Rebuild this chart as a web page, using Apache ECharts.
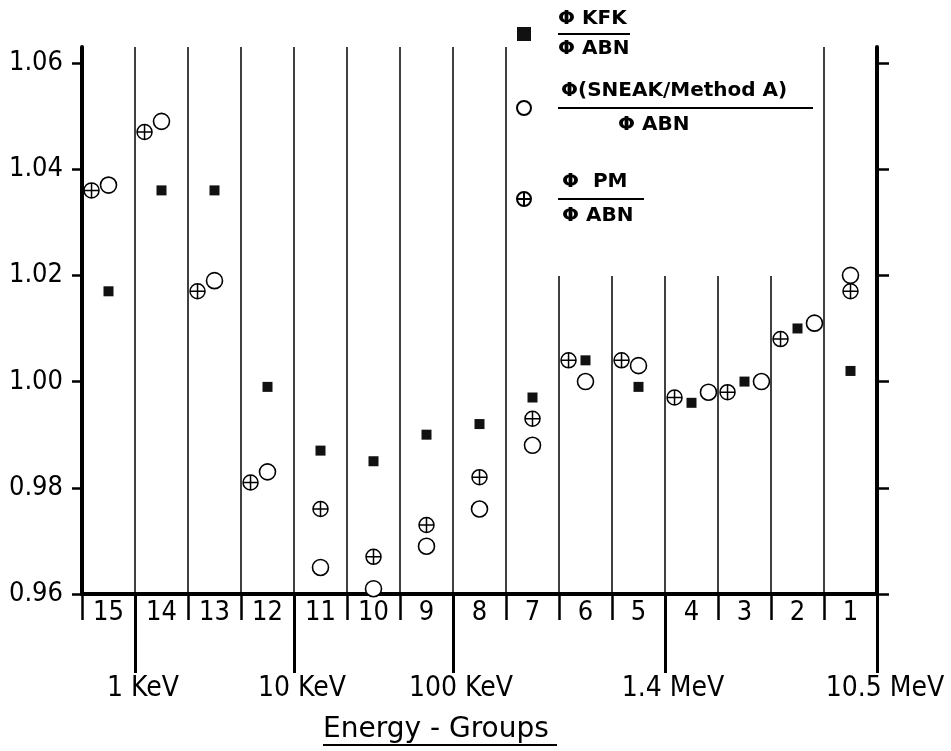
<!DOCTYPE html>
<html><head><meta charset="utf-8">
<script src="https://cdn.jsdelivr.net/npm/echarts@6/dist/echarts.min.js"></script>
<style>html,body{margin:0;padding:0;background:#fff}#c{width:951px;height:751px}</style>
</head><body><div id="c"></div>
<script>
// Energy groups, left to right
const groups = ['15','14','13','12','11','10','9','8','7','6','5','4','3','2','1'];
// Flux ratios (same order as groups)
const kfk   = [1.017, 1.036, 1.036, 0.999, 0.987, 0.985, 0.990, 0.992, 0.997, 1.004, 0.999, 0.996, 1.000, 1.010, 1.002];
const sneak = [1.037, 1.049, 1.019, 0.983, 0.965, 0.961, 0.969, 0.976, 0.988, 1.000, 1.003, 0.998, 1.000, 1.011, 1.020];
const pm    = [1.036, 1.047, 1.017, 0.981, 0.976, 0.967, 0.973, 0.982, 0.993, 1.004, 1.004, 0.997, 0.998, 1.008, 1.017];
// Y tick labels
const yTicks = [0.96, 0.98, 1.00, 1.02, 1.04, 1.06];
// Energy boundary marks (position = number of groups from the left edge) and labels
const energyBounds = [1, 4, 7, 11, 15];
const energyLabels = ['1 KeV', '10 KeV', '100 KeV', '1.4 MeV', '10.5 MeV'];
// Dodge slot of each marker inside its group (-1 left, 0 centre, +1 right)
const pmSlot    = [-1,-1,-1,-1, 0, 0, 0, 0, 0,-1,-1,-1,-1,-1, 0];
const sneakSlot = [ 0, 0, 0, 0, 0, 0, 0, 0, 0, 0, 0, 1, 1, 1, 0];
const kfkSlot   = [ 0, 0, 0, 0, 0, 0, 0, 0, 0, 0, 0, 0, 0, 0, 0];

const SLOT_W = 0.32;
function pts(vals, slots) {
  return vals.map((v, i) => [i + 0.5 + slots[i] * SLOT_W, v]);
}

const NAME_KFK = 'ΦKFK/ΦABN';
const NAME_SNEAK = 'Φ(SNEAK/Method A)/ΦABN';
const NAME_PM = 'ΦPM/ΦABN';
const legendText = {};
legendText[NAME_KFK] = '{n1|Φ KFK}\n{b1| }\n{d1|Φ ABN}';
legendText[NAME_SNEAK] = '{n2|Φ(SNEAK/Method A)}\n{b2| }\n{d2|Φ ABN}';
legendText[NAME_PM] = '{sp| }\n{n3|Φ  PM}\n{b3| }\n{d3|Φ ABN}\n{sp| }';

const COND = "'DejaVu Sans Condensed', 'DejaVu Sans'";
const LEG = {fontFamily: 'DejaVu Sans', fontWeight: 'bold', fontSize: 20, color: '#000'};
const PM_PATH = 'path://M10,0A10,10,0,1,1,-10,0A10,10,0,1,1,10,0ZM-10,0L10,0M0,-10L0,10';

const chart = echarts.init(document.getElementById('c'), null, {renderer: 'canvas'});
chart.setOption({
  backgroundColor: '#fff',
  animation: false,
  textStyle: {color: '#000'},
  grid: {left: 82, right: 74, top: 47, bottom: 157, containLabel: false},
  title: {
    text: '{t|Energy - Groups}\n{u| }',
    left: 323, top: 717, padding: 0,
    textStyle: {
      fontWeight: 'normal',
      rich: {
        t: {fontFamily: 'DejaVu Sans', fontWeight: 'normal', fontSize: 28, color: '#000', lineHeight: 26},
        u: {width: 234, height: 2, backgroundColor: '#000', lineHeight: 4}
      }
    }
  },
  legend: {
    orient: 'vertical', left: 510, top: 0,
    padding: [9, 6, 35, 6],
    itemWidth: 14, itemHeight: 14, itemGap: 22,
    backgroundColor: '#fff',
    selectedMode: false,
    data: [{name: NAME_KFK}, {name: NAME_SNEAK}, {name: NAME_PM}],
    formatter: n => legendText[n],
    textStyle: {
      padding: [0, 0, 0, 22],
      rich: {
        sp: {lineHeight: 12, fontSize: 10},
        n1: Object.assign({lineHeight: 24}, LEG),
        b1: {width: 72, height: 2, lineHeight: 6, backgroundColor: '#000'},
        d1: Object.assign({lineHeight: 24}, LEG),
        n2: Object.assign({lineHeight: 28, padding: [0, 0, 0, 3]}, LEG),
        b2: {width: 255, height: 2, lineHeight: 6, backgroundColor: '#000'},
        d2: Object.assign({lineHeight: 28, padding: [0, 0, 0, 60]}, LEG),
        n3: Object.assign({lineHeight: 28, padding: [0, 0, 0, 4]}, LEG),
        b3: {width: 86, height: 2, lineHeight: 6, backgroundColor: '#000'},
        d3: Object.assign({lineHeight: 28, padding: [0, 0, 0, 4]}, LEG)
      }
    }
  },
  xAxis: [
    {
      type: 'value', min: 0, max: groups.length, interval: 1, position: 'bottom',
      axisLine: {show: true, onZero: false, lineStyle: {color: '#000', width: 4}},
      axisTick: {show: true, length: 26, lineStyle: {color: '#000', width: 2.5}},
      axisLabel: {
        show: true, margin: 5,
        customValues: groups.map((g, i) => i + 0.5),
        formatter: v => groups[Math.floor(v)],
        fontFamily: COND, fontSize: 27, color: '#000'
      },
      splitLine: {show: true, lineStyle: {color: '#000', width: 1.5}}
    },
    {
      type: 'value', min: 0, max: groups.length, position: 'bottom',
      axisLine: {show: false},
      axisTick: {show: true, length: 79, customValues: energyBounds, lineStyle: {color: '#000', width: 3}},
      axisLabel: {
        show: true, margin: 81,
        customValues: energyBounds,
        formatter: v => energyLabels[energyBounds.indexOf(v)],
        fontFamily: COND, fontSize: 28, color: '#000',
        padding: [0, 0, 0, 16]
      },
      splitLine: {show: false}
    }
  ],
  yAxis: [
    {
      type: 'value', min: 0.96, max: 1.063, position: 'left',
      axisLine: {show: true, onZero: false, lineStyle: {color: '#000', width: 4}},
      axisTick: {show: true, length: 10, customValues: yTicks, lineStyle: {color: '#000', width: 2.5}},
      axisLabel: {
        show: true, margin: 19, customValues: yTicks,
        formatter: v => v.toFixed(2),
        fontFamily: COND, fontSize: 27, color: '#000'
      },
      splitLine: {show: false}
    },
    {
      type: 'value', min: 0.96, max: 1.063, position: 'right',
      axisLine: {show: true, onZero: false, lineStyle: {color: '#000', width: 4}},
      axisTick: {show: true, length: 12, customValues: yTicks, lineStyle: {color: '#000', width: 2.5}},
      axisLabel: {show: false},
      splitLine: {show: false}
    }
  ],
  series: [
    {
      name: NAME_KFK, type: 'scatter', xAxisIndex: 0, yAxisIndex: 0,
      symbol: 'rect', symbolSize: 10,
      itemStyle: {color: '#111', opacity: 1},
      data: pts(kfk, kfkSlot), z: 3
    },
    {
      name: NAME_SNEAK, type: 'scatter', xAxisIndex: 0, yAxisIndex: 0,
      symbol: 'circle', symbolSize: 16,
      itemStyle: {color: '#fff', borderColor: '#000', borderWidth: 1.6, opacity: 1},
      data: pts(sneak, sneakSlot), z: 3
    },
    {
      name: NAME_PM, type: 'scatter', xAxisIndex: 0, yAxisIndex: 0,
      symbol: PM_PATH, symbolSize: 15,
      itemStyle: {color: '#fff', borderColor: '#000', borderWidth: 1.5, opacity: 1},
      data: pts(pm, pmSlot), z: 3
    }
  ]
});
</script></body></html>
